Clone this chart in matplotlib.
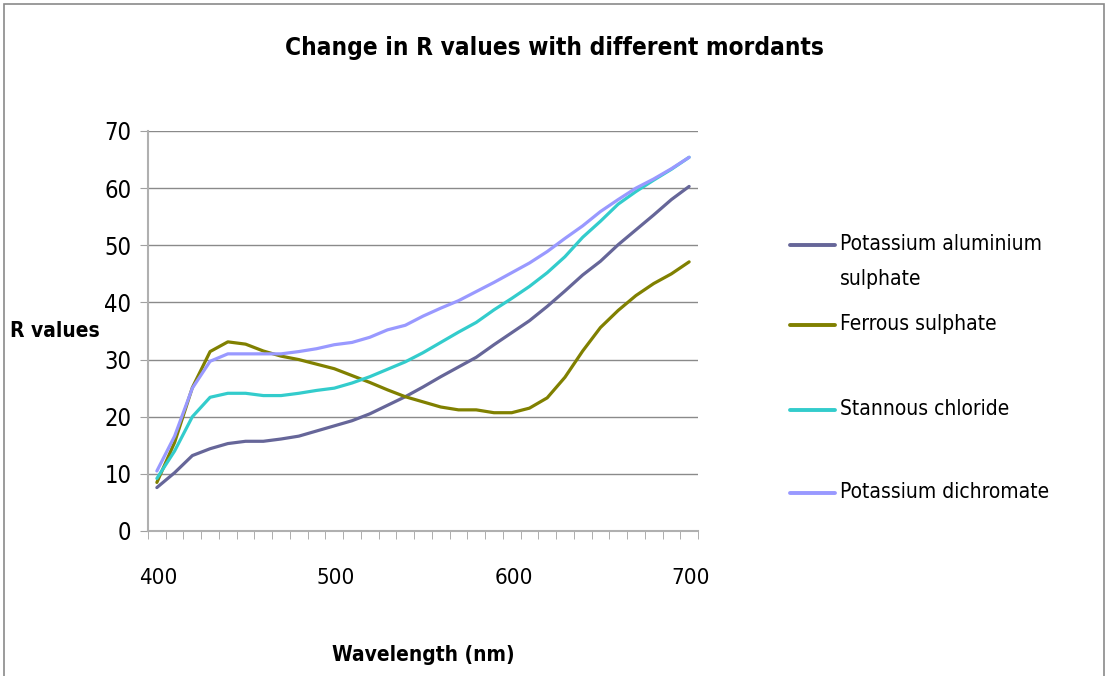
import numpy as np
import matplotlib
matplotlib.use("Agg")
import matplotlib.pyplot as plt
from matplotlib.patches import Rectangle
from matplotlib.lines import Line2D

wavelength = list(range(400, 701, 10))

pot_alum = [7.6, 10.2, 13.2, 14.4, 15.3, 15.7, 15.7, 16.1, 16.6, 17.5, 18.4, 19.3, 20.5, 22.0, 23.5,
            25.2, 27.0, 28.7, 30.4, 32.6, 34.7, 36.8, 39.3, 42.0, 44.8, 47.2, 50.1, 52.7, 55.3, 58.0, 60.3]
ferrous = [8.5, 15.5, 25.1, 31.4, 33.1, 32.7, 31.5, 30.6, 30.0, 29.2, 28.4, 27.2, 26.0, 24.7, 23.5,
           22.6, 21.7, 21.2, 21.2, 20.7, 20.7, 21.5, 23.3, 26.9, 31.5, 35.6, 38.6, 41.2, 43.3, 45.0, 47.1]
stannous = [9.2, 14.0, 20.0, 23.4, 24.1, 24.1, 23.7, 23.7, 24.1, 24.6, 25.0, 25.9, 27.0, 28.3, 29.6,
            31.2, 33.0, 34.8, 36.5, 38.7, 40.7, 42.8, 45.2, 48.0, 51.4, 54.2, 57.2, 59.4, 61.4, 63.3, 65.4]
dichromate = [10.5, 16.6, 25.0, 29.7, 31.0, 31.0, 31.0, 31.0, 31.4, 31.9, 32.6, 33.0, 33.9, 35.2, 36.0,
              37.6, 39.0, 40.3, 41.9, 43.5, 45.2, 46.9, 48.9, 51.2, 53.4, 55.9, 58.0, 60.0, 61.6, 63.4, 65.4]

series_names = ["Potassium aluminium\nsulphate", "Ferrous sulphate", "Stannous chloride", "Potassium dichromate"]
series_values = [pot_alum, ferrous, stannous, dichromate]
series_colors = ["#666699", "#808000", "#33CCCC", "#9999FF"]

plt.rcParams['font.family'] = ['DejaVu Sans']
plt.rcParams['font.stretch'] = 'condensed'

W, H = 1108, 676
fig = plt.figure(figsize=(W / 100, H / 100), dpi=100)
ax = fig.add_axes([148 / W, 1 - 531 / H, 550 / W, 400 / H])

# category axis: points sit in the middle of each slot
pos = np.arange(len(wavelength))
for name, vals, col in zip(series_names, series_values, series_colors):
    ax.plot(pos, vals, color=col, lw=2.3, label=name, solid_capstyle="round")

ax.set_xlim(-0.5, len(wavelength) - 0.5)
ax.set_ylim(0, 70)
ax.set_yticks(range(0, 71, 10))
ax.grid(axis="y", color="#8a8a8a", lw=1)
ax.set_axisbelow(True)

ax.set_xticks(pos[::10] + 0.1)
ax.set_xticklabels([str(w) for w in wavelength[::10]])
ax.set_xticks(np.arange(-0.5, len(wavelength), 1.0), minor=True)
ax.tick_params(axis="x", which="major", length=0, pad=27, labelsize=16)
ax.tick_params(axis="x", which="minor", length=6, color="#a0a0a0", direction="out")
ax.tick_params(axis="y", length=6, color="#a0a0a0", labelsize=17, pad=6)

for s in ["top", "right"]:
    ax.spines[s].set_visible(False)
for s in ["left", "bottom"]:
    ax.spines[s].set_color("#b0b0b0")
    ax.spines[s].set_linewidth(1.5)

fig.text(0.5, 1 - 48 / H, "Change in R values with different mordants",
         ha="center", va="center", fontsize=17.5, fontweight="bold")
fig.text(10 / W, 1 - 331 / H, "R values", ha="left", va="center",
         fontsize=15, fontweight="bold")
fig.text(423 / W, 1 - 655 / H, "Wavelength (nm)", ha="center", va="center",
         fontsize=15, fontweight="bold")

# legend entries placed like the original (first label wraps onto two lines)
leg_y = [245, 325, 410, 493]
for name, col, y in zip(series_names, series_colors, leg_y):
    fig.add_artist(Line2D([790 / W, 835 / W], [1 - y / H, 1 - y / H], transform=fig.transFigure,
                          color=col, lw=2.8, solid_capstyle="round"))
    fig.text(840 / W, 1 - (y - 11) / H, name, ha="left", va="top", fontsize=15, linespacing=1.95)

fig.add_artist(Rectangle((4 / W, -0.05), 1100 / W, 1.05 - 4 / H,
                         transform=fig.transFigure, fill=False, ec="#8a8a8a", lw=1.2))

fig.savefig("out.png", dpi=100)
